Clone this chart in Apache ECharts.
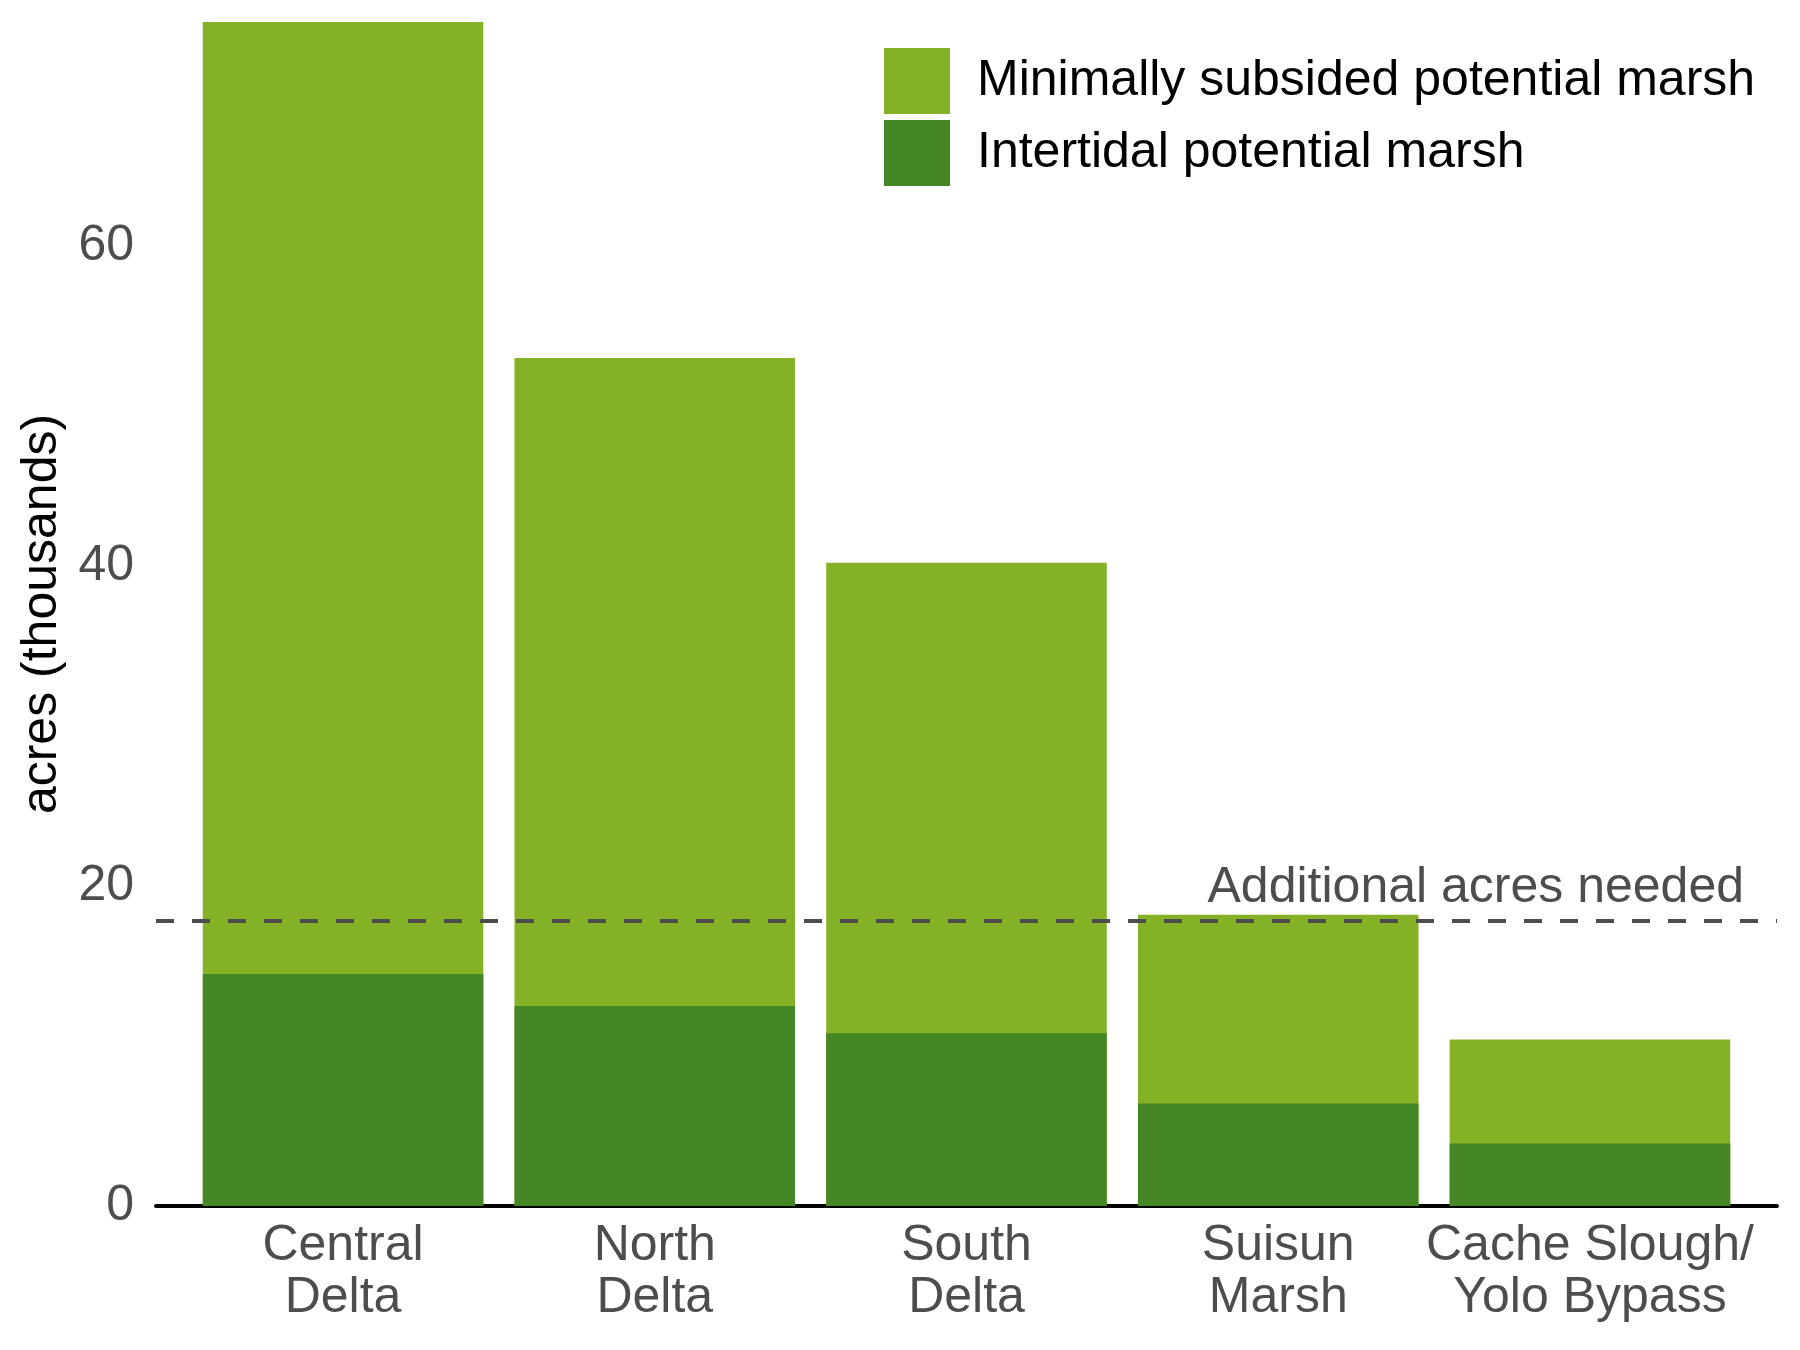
<!DOCTYPE html>
<html>
<head>
    <meta charset="UTF-8">
    <title>Potential marsh by region</title>
    <script src="https://cdn.jsdelivr.net/npm/echarts@6/dist/echarts.min.js"></script>
    <style>
        body {
            margin: 0;
            background: #fff;
        }

        #chart {
            width: 1800px;
            height: 1350px;
        }
    </style>
</head>
<body>
<div id="chart"></div>

<script>
    // regions, in thousands of acres
    var regions = ['Central\nDelta', 'North\nDelta', 'South\nDelta', 'Suisun\nMarsh', 'Cache Slough/\nYolo Bypass'];
    var totalPotential = [74.0, 53.0, 40.2, 18.2, 10.4];   // top of each bar
    var intertidal = [14.5, 12.5, 10.8, 6.4, 3.9];         // dark lower part
    var acresNeeded = 17.8;
    var yTicks = [0, 20, 40, 60];

    var seriesNames = ['Minimally subsided potential marsh', 'Intertidal potential marsh'];
    var lightGreen = '#84b125';
    var darkGreen = '#458625';
    var grey = '#4d4d4d';
    var font = 'Liberation Sans, Arial, sans-serif';

    // bars sit on a value axis at 1..5 so the panel runs 0.6 of a slot past the outer bars
    function toPoints(arr) {
        var out = [];
        for (var i = 0; i < arr.length; i++) {
            out.push([i + 1, arr[i]]);
        }
        return out;
    }

    var positions = [];
    for (var i = 0; i < regions.length; i++) {
        positions.push(i + 1);
    }

    var chart = echarts.init(document.getElementById('chart'), null, {renderer: 'canvas'});

    chart.setOption({
        animation: false,
        textStyle: {fontFamily: font},
        grid: {left: 156, right: 23, top: 22, bottom: 144},
        legend: {
            orient: 'vertical',
            left: 884,
            top: 48,
            padding: 0,
            itemWidth: 66,
            itemHeight: 66,
            itemGap: 6,
            icon: 'rect',
            data: seriesNames,
            textStyle: {fontSize: 50, color: '#000', fontFamily: font, padding: [16, 0, 0, 22]}
        },
        xAxis: {
            type: 'value',
            min: 0.4,
            max: 5.6,
            splitLine: {show: false},
            axisTick: {show: false},
            axisLine: {show: true, lineStyle: {color: '#000', width: 4}},
            axisLabel: {
                customValues: positions,
                formatter: function (v) {
                    return regions[Math.round(v) - 1] || '';
                },
                fontSize: 50,
                lineHeight: 52,
                color: grey,
                margin: 14,
                fontFamily: font
            }
        },
        yAxis: {
            type: 'value',
            min: 0,
            max: 74,
            interval: 20,
            name: 'acres (thousands)',
            nameLocation: 'middle',
            nameGap: 86,
            nameTextStyle: {fontSize: 50, color: '#000', fontFamily: font},
            splitLine: {show: false},
            axisTick: {show: false},
            axisLine: {show: false},
            axisLabel: {
                customValues: yTicks,
                fontSize: 50,
                color: grey,
                margin: 22,
                fontFamily: font
            }
        },
        series: [
            {
                // full bar height, light green; the intertidal bar is drawn over its lower part
                name: seriesNames[0],
                type: 'bar',
                barWidth: '90%',
                barGap: '-100%',
                itemStyle: {color: lightGreen},
                data: toPoints(totalPotential),
                markLine: {
                    silent: true,
                    symbol: 'none',
                    z: 5,
                    lineStyle: {color: grey, width: 4, type: [18, 18]},
                    label: {
                        show: true,
                        position: 'insideEndTop',
                        distance: [33, 8],
                        formatter: 'Additional acres needed',
                        fontSize: 50,
                        color: grey,
                        fontFamily: font
                    },
                    data: [{yAxis: acresNeeded}]
                }
            },
            {
                name: seriesNames[1],
                type: 'bar',
                barWidth: '90%',
                barGap: '-100%',
                itemStyle: {color: darkGreen},
                data: toPoints(intertidal)
            }
        ]
    });
</script>
</body>
</html>
